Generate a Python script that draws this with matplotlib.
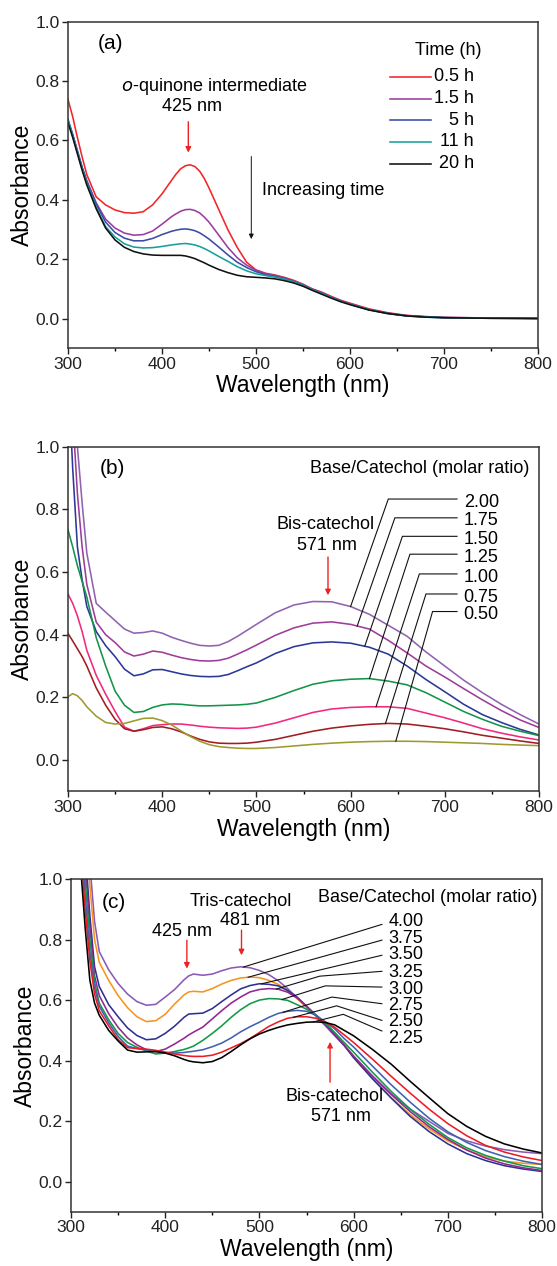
import numpy as np
import matplotlib
matplotlib.use('Agg')
from matplotlib import pyplot as plt

plt.rcParams['font.family'] = ['Liberation Sans', 'DejaVu Sans']

# ---------------- panel (a): time series ----------------
wl_a = [300, 305, 310, 315, 320, 330, 340, 350, 360, 370, 380, 390, 400, 410, 415, 420, 425, 430,
        435, 440, 445, 450, 460, 470, 480, 490, 500, 510, 520, 530, 540, 550, 560, 570, 580, 590,
        600, 620, 640, 660, 680, 700, 750, 800]
abs_05h = [0.738, 0.68, 0.61, 0.545, 0.485, 0.41, 0.383, 0.366, 0.357, 0.355, 0.360, 0.383, 0.42,
           0.465, 0.487, 0.505, 0.515, 0.518, 0.512, 0.497, 0.472, 0.44, 0.37, 0.30, 0.24, 0.19,
           0.164, 0.153, 0.147, 0.139, 0.129, 0.116, 0.100, 0.089, 0.075, 0.062, 0.052, 0.033,
           0.020, 0.011, 0.007, 0.004, 0.002, 0.001]
abs_15h = [0.668, 0.62, 0.565, 0.51, 0.465, 0.39, 0.335, 0.305, 0.288, 0.281, 0.283, 0.295, 0.318,
           0.343, 0.353, 0.362, 0.367, 0.368, 0.364, 0.356, 0.342, 0.325, 0.283, 0.24, 0.205,
           0.18, 0.163, 0.151, 0.145, 0.137, 0.127, 0.114, 0.099, 0.087, 0.073, 0.06, 0.05,
           0.031, 0.018, 0.010, 0.006, 0.004, 0.002, 0.001]
abs_5h = [0.671, 0.62, 0.565, 0.51, 0.462, 0.385, 0.325, 0.29, 0.271, 0.262, 0.262, 0.27, 0.283,
          0.294, 0.298, 0.301, 0.302, 0.30, 0.296, 0.289, 0.279, 0.268, 0.242, 0.215, 0.19,
          0.172, 0.158, 0.148, 0.142, 0.135, 0.125, 0.113, 0.098, 0.086, 0.072, 0.059, 0.049,
          0.030, 0.018, 0.010, 0.006, 0.003, 0.002, 0.001]
abs_11h = [0.668, 0.615, 0.56, 0.505, 0.455, 0.375, 0.31, 0.275, 0.252, 0.241, 0.238, 0.239, 0.243,
           0.248, 0.25, 0.252, 0.253, 0.251, 0.248, 0.243, 0.236, 0.228, 0.21, 0.193, 0.175,
           0.161, 0.151, 0.145, 0.14, 0.133, 0.124, 0.112, 0.097, 0.084, 0.071, 0.058, 0.048,
           0.030, 0.017, 0.009, 0.005, 0.003, 0.001, 0.0]
abs_20h = [0.659, 0.61, 0.555, 0.50, 0.45, 0.37, 0.305, 0.265, 0.24, 0.226, 0.218, 0.214, 0.213,
           0.213, 0.213, 0.213, 0.211, 0.207, 0.202, 0.195, 0.188, 0.18, 0.166, 0.155, 0.146,
           0.141, 0.139, 0.137, 0.134, 0.128, 0.12, 0.109, 0.095, 0.082, 0.069, 0.057, 0.047,
           0.029, 0.017, 0.009, 0.005, 0.003, 0.001, 0.0]
time_labels = ['0.5 h', '1.5 h', '5 h', '11 h', '20 h']
time_colors = ['#f0262a', '#9b3d9e', '#3a4ba8', '#16a09a', '#111111']

# ---------------- panel (b): base/catechol 0.50 - 2.00 ----------------
wl_b = [300, 305, 310, 315, 320, 330, 340, 350, 360, 370, 380, 390, 400, 410, 420, 430, 440, 450,
        460, 470, 480, 490, 500, 520, 540, 560, 580, 600, 620, 640, 660, 680, 700, 720, 740, 760,
        780, 800]
abs_b_200 = [1.6, 1.3, 1.0, 0.82, 0.66, 0.50, 0.472, 0.445, 0.418, 0.405, 0.407, 0.412, 0.405,
             0.392, 0.382, 0.373, 0.366, 0.364, 0.366, 0.378, 0.395, 0.414, 0.433, 0.47, 0.495,
             0.506, 0.505, 0.49, 0.465, 0.43, 0.395, 0.345, 0.30, 0.255, 0.215, 0.178, 0.145,
             0.115]
abs_b_175 = [1.5, 1.1, 0.85, 0.68, 0.56, 0.44, 0.40, 0.375, 0.345, 0.332, 0.338, 0.348, 0.344,
             0.335, 0.327, 0.321, 0.317, 0.316, 0.318, 0.325, 0.338, 0.352, 0.367, 0.398, 0.422,
             0.437, 0.441, 0.433, 0.418, 0.382, 0.342, 0.30, 0.265, 0.228, 0.192, 0.158, 0.128,
             0.104]
abs_b_150 = [1.25, 0.93, 0.68, 0.575, 0.49, 0.41, 0.365, 0.33, 0.29, 0.269, 0.275, 0.288, 0.289,
             0.282, 0.275, 0.27, 0.267, 0.266, 0.267, 0.273, 0.285, 0.298, 0.31, 0.34, 0.362,
             0.374, 0.377, 0.373, 0.36, 0.338, 0.30, 0.257, 0.218, 0.178, 0.145, 0.12, 0.098,
             0.08]
abs_b_125 = [0.735, 0.68, 0.62, 0.57, 0.52, 0.39, 0.30, 0.22, 0.175, 0.152, 0.155, 0.168, 0.176,
             0.179, 0.178, 0.175, 0.173, 0.173, 0.174, 0.175, 0.176, 0.178, 0.182, 0.20, 0.222,
             0.242, 0.253, 0.258, 0.26, 0.252, 0.24, 0.215, 0.185, 0.155, 0.13, 0.108, 0.092,
             0.078]
abs_b_100 = [0.53, 0.50, 0.46, 0.41, 0.35, 0.27, 0.21, 0.155, 0.105, 0.092, 0.10, 0.11, 0.113,
             0.115, 0.115, 0.112, 0.108, 0.105, 0.103, 0.102, 0.101, 0.102, 0.105, 0.118, 0.135,
             0.152, 0.163, 0.168, 0.17, 0.17, 0.165, 0.15, 0.135, 0.118, 0.10, 0.086, 0.074,
             0.064]
abs_b_075 = [0.404, 0.38, 0.355, 0.33, 0.30, 0.23, 0.175, 0.13, 0.10, 0.092, 0.097, 0.104, 0.106,
             0.10, 0.09, 0.077, 0.066, 0.058, 0.054, 0.053, 0.053, 0.054, 0.057, 0.066, 0.079,
             0.092, 0.102, 0.109, 0.114, 0.117, 0.115, 0.108, 0.10, 0.09, 0.079, 0.07, 0.061,
             0.053]
abs_b_050 = [0.202, 0.212, 0.205, 0.19, 0.17, 0.14, 0.12, 0.115, 0.117, 0.125, 0.133, 0.134,
             0.126, 0.112, 0.093, 0.075, 0.06, 0.049, 0.043, 0.04, 0.038, 0.037, 0.037, 0.04,
             0.045, 0.05, 0.054, 0.057, 0.059, 0.06, 0.06, 0.059, 0.057, 0.055, 0.053, 0.05,
             0.048, 0.046]
ratio_b = ['2.00', '1.75', '1.50', '1.25', '1.00', '0.75', '0.50']
colors_b = ['#8e63b0', '#9e3d97', '#2b3896', '#13944a', '#f2287d', '#a11d21', '#9e9a2e']

# ---------------- panel (c): base/catechol 2.25 - 4.00 ----------------
wl_c = [300, 305, 310, 315, 320, 325, 330, 340, 350, 360, 370, 380, 390, 400, 410, 420, 425, 430,
        440, 450, 460, 470, 480, 490, 500, 510, 520, 530, 540, 550, 560, 570, 580, 590, 600, 620,
        640, 660, 680, 700, 720, 740, 760, 780, 800]
abs_c_400 = [2.0, 1.8, 1.55, 1.3, 1.05, 0.86, 0.76, 0.70, 0.655, 0.62, 0.595, 0.583, 0.586, 0.61,
             0.635, 0.667, 0.68, 0.686, 0.682, 0.686, 0.697, 0.706, 0.71, 0.707, 0.698, 0.684,
             0.664, 0.638, 0.607, 0.577, 0.547, 0.515, 0.482, 0.45, 0.415, 0.35, 0.29, 0.24, 0.20,
             0.16, 0.135, 0.118, 0.106, 0.098, 0.093]
abs_c_375 = [1.9, 1.7, 1.45, 1.2, 0.98, 0.80, 0.725, 0.665, 0.615, 0.575, 0.545, 0.529, 0.532,
             0.553, 0.587, 0.617, 0.627, 0.629, 0.627, 0.638, 0.653, 0.665, 0.673, 0.676, 0.674,
             0.665, 0.652, 0.63, 0.605, 0.577, 0.548, 0.52, 0.488, 0.452, 0.41, 0.342, 0.278,
             0.222, 0.175, 0.135, 0.105, 0.082, 0.068, 0.061, 0.057]
abs_c_350 = [1.8, 1.6, 1.35, 1.1, 0.88, 0.71, 0.645, 0.585, 0.545, 0.508, 0.483, 0.469, 0.472,
             0.49, 0.514, 0.543, 0.554, 0.555, 0.557, 0.572, 0.595, 0.617, 0.637, 0.648, 0.654,
             0.652, 0.647, 0.632, 0.61, 0.58, 0.55, 0.52, 0.485, 0.45, 0.41, 0.34, 0.276, 0.216,
             0.166, 0.125, 0.093, 0.07, 0.053, 0.042, 0.034]
abs_c_325 = [1.75, 1.55, 1.3, 1.05, 0.84, 0.68, 0.615, 0.555, 0.51, 0.475, 0.452, 0.436, 0.43,
             0.438, 0.455, 0.474, 0.485, 0.494, 0.511, 0.538, 0.565, 0.59, 0.61, 0.627, 0.635,
             0.638, 0.636, 0.626, 0.607, 0.58, 0.55, 0.52, 0.487, 0.452, 0.415, 0.348, 0.288,
             0.232, 0.182, 0.14, 0.105, 0.078, 0.059, 0.046, 0.037]
abs_c_300 = [1.7, 1.5, 1.25, 1.0, 0.80, 0.66, 0.59, 0.535, 0.49, 0.46, 0.444, 0.432, 0.422, 0.425,
             0.43, 0.437, 0.442, 0.448, 0.467, 0.49, 0.515, 0.543, 0.568, 0.588, 0.60, 0.605,
             0.604, 0.599, 0.585, 0.57, 0.551, 0.525, 0.493, 0.46, 0.428, 0.362, 0.298, 0.24,
             0.19, 0.146, 0.112, 0.087, 0.068, 0.053, 0.043]
abs_c_275 = [1.65, 1.45, 1.2, 0.95, 0.76, 0.64, 0.58, 0.525, 0.48, 0.448, 0.44, 0.435, 0.43,
             0.427, 0.425, 0.427, 0.429, 0.431, 0.436, 0.446, 0.458, 0.475, 0.495, 0.512, 0.527,
             0.543, 0.556, 0.563, 0.566, 0.563, 0.55, 0.528, 0.505, 0.473, 0.445, 0.382, 0.32,
             0.263, 0.21, 0.165, 0.13, 0.103, 0.083, 0.068, 0.057]
abs_c_250 = [1.6, 1.4, 1.12, 0.90, 0.73, 0.62, 0.565, 0.515, 0.47, 0.443, 0.44, 0.438, 0.434,
             0.428, 0.422, 0.417, 0.415, 0.414, 0.414, 0.418, 0.428, 0.442, 0.456, 0.473, 0.493,
             0.513, 0.528, 0.54, 0.545, 0.545, 0.54, 0.528, 0.51, 0.485, 0.46, 0.405, 0.348,
             0.293, 0.24, 0.192, 0.152, 0.12, 0.098, 0.082, 0.07]
abs_c_225 = [1.5, 1.3, 1.05, 0.84, 0.666, 0.59, 0.55, 0.50, 0.465, 0.435, 0.428, 0.429, 0.43,
             0.425, 0.416, 0.404, 0.399, 0.396, 0.393, 0.397, 0.41, 0.43, 0.452, 0.472, 0.488,
             0.50, 0.51, 0.518, 0.523, 0.527, 0.528, 0.526, 0.518, 0.50, 0.482, 0.437, 0.388,
             0.332, 0.278, 0.225, 0.183, 0.15, 0.125, 0.108, 0.095]
ratio_c = ['4.00', '3.75', '3.50', '3.25', '3.00', '2.75', '2.50', '2.25']
colors_c = ['#8c5ab4', '#f7941d', '#2e3192', '#92278f', '#0f9a48', '#4161b0', '#ed1c24', '#000000']

FS_TICK = 12.5
FS_LABEL = 16.5
FS_TEXT = 13

W, H = 557, 1266
fig = plt.figure(figsize=(W / 100, H / 100), dpi=100)


def px_rect(left, top, right, bottom):
    return [left / W, 1 - bottom / H, (right - left) / W, (bottom - top) / H]


def style_axes(ax):
    ax.set_xlim(300, 800)
    ax.set_ylim(-0.1, 1.0)
    ax.set_xticks(np.arange(300, 801, 100))
    ax.set_xticks(np.arange(350, 800, 100), minor=True)
    ax.set_yticks(np.arange(0, 1.01, 0.2))
    ax.yaxis.set_major_formatter(matplotlib.ticker.FormatStrFormatter('%.1f'))
    ax.tick_params(which='major', direction='out', length=4, width=1.0, pad=2,
                   labelsize=FS_TICK, colors='#222222', top=False, right=False)
    ax.tick_params(which='minor', direction='out', length=2.5, width=1.0,
                   top=False, right=False)
    ax.tick_params(axis='y', which='minor', left=False)
    for s in ax.spines.values():
        s.set_linewidth(1.1)
        s.set_color('#333333')
    ax.set_xlabel('Wavelength (nm)', fontsize=FS_LABEL, labelpad=2)
    ax.set_ylabel('Absorbance', fontsize=FS_LABEL, labelpad=1)


def red_arrow(ax, x, y0, y1):
    ax.annotate('', xy=(x, y1), xytext=(x, y0),
                arrowprops=dict(arrowstyle='-|>', color='#ee2222', lw=1.0,
                                mutation_scale=8, shrinkA=0, shrinkB=0))


# ---------- (a) ----------
ax1 = fig.add_axes(px_rect(68, 21.7, 538, 348.3))
series_a = [abs_05h, abs_15h, abs_5h, abs_11h, abs_20h]
for vals, col in zip(series_a, time_colors):
    ax1.plot(wl_a, vals, color=col, lw=1.15)
style_axes(ax1)
ax1.text(332, 0.925, '(a)', fontsize=15, va='center')
ax1.text(455, 0.783, r'$\mathit{o}$-quinone intermediate', fontsize=FS_TEXT,
         ha='center', va='center')
ax1.text(432, 0.716, '425 nm', fontsize=FS_TEXT, ha='center', va='center')
red_arrow(ax1, 428, 0.663, 0.559)
ax1.annotate('', xy=(495, 0.268), xytext=(495, 0.546),
             arrowprops=dict(arrowstyle='-|>', color='#111111', lw=0.7,
                             mutation_scale=7, shrinkA=0, shrinkB=0))
ax1.text(506, 0.431, 'Increasing time', fontsize=FS_TEXT, va='center')
# legend drawn as a small key in axes coordinates
ax1.text(0.81, 0.911, 'Time (h)', transform=ax1.transAxes, fontsize=FS_TEXT,
         ha='center', va='center')
for i, (lab, col) in enumerate(zip(time_labels, time_colors)):
    yk = 0.831 - i * 0.0664
    ax1.plot([0.685, 0.772], [yk, yk], transform=ax1.transAxes, color=col, lw=1.15)
    ax1.text(0.864, yk, lab, transform=ax1.transAxes, fontsize=FS_TEXT,
             ha='right', va='center')

# ---------- (b) ----------
ax2 = fig.add_axes(px_rect(68, 446.7, 539, 791.4))
series_b = [abs_b_200, abs_b_175, abs_b_150, abs_b_125, abs_b_100, abs_b_075, abs_b_050]
for vals, col in zip(series_b, colors_b):
    ax2.plot(wl_b, vals, color=col, lw=1.15)
style_axes(ax2)
ax2.text(334, 0.93, '(b)', fontsize=15, va='center')
ax2.text(790, 0.93, 'Base/Catechol (molar ratio)', fontsize=FS_TEXT, ha='right', va='center')
ax2.text(573, 0.752, 'Bis-catechol', fontsize=FS_TEXT, ha='center', va='center')
ax2.text(575, 0.685, '571 nm', fontsize=FS_TEXT, ha='center', va='center')
red_arrow(ax2, 576, 0.648, 0.526)
label_v_b = [0.823, 0.763, 0.704, 0.647, 0.584, 0.520, 0.464]
elbow_b = [640, 647, 655, 663, 673, 680, 687]
end_b = [600, 607, 615, 620, 627, 637, 648]
for vals, lab, lv, ex, ee in zip(series_b, ratio_b, label_v_b, elbow_b, end_b):
    yc = np.interp(ee, wl_b, vals)
    ax2.plot([ee, ex, 713], [yc, lv + 0.01, lv + 0.01], color='#111111', lw=0.8)
    ax2.text(720, lv, lab, fontsize=FS_TEXT, va='center')

# ---------- (c) ----------
ax3 = fig.add_axes(px_rect(71, 879, 542, 1212))
series_c = [abs_c_400, abs_c_375, abs_c_350, abs_c_325, abs_c_300, abs_c_275, abs_c_250, abs_c_225]
for vals, col in zip(series_c, colors_c):
    ax3.plot(wl_c, vals, color=col, lw=1.15)
style_axes(ax3)
ax3.text(333, 0.924, '(c)', fontsize=15, va='center')
ax3.text(795, 0.939, 'Base/Catechol (molar ratio)', fontsize=FS_TEXT, ha='right', va='center')
ax3.text(480, 0.927, 'Tris-catechol', fontsize=FS_TEXT, ha='center', va='center')
ax3.text(490, 0.864, '481 nm', fontsize=FS_TEXT, ha='center', va='center')
red_arrow(ax3, 481, 0.831, 0.748)
ax3.text(418, 0.825, '425 nm', fontsize=FS_TEXT, ha='center', va='center')
red_arrow(ax3, 423, 0.798, 0.704)
ax3.text(580, 0.28, 'Bis-catechol', fontsize=FS_TEXT, ha='center', va='center')
ax3.text(587, 0.216, '571 nm', fontsize=FS_TEXT, ha='center', va='center')
red_arrow(ax3, 575, 0.329, 0.462)
label_v_c = [0.861, 0.805, 0.75, 0.691, 0.636, 0.581, 0.528, 0.473]
line_end_c = [0.85, 0.798, 0.748, 0.695, 0.643, 0.588, 0.533, 0.498]
end_c = [483, 488, 502, 518, 524, 525, 536, 557]
elbow_c = [None, None, None, (564, 0.679), (570, 0.647), (577, 0.61), (582, 0.581), (589, 0.553)]
for vals, lab, lv, le, ee, eb in zip(series_c, ratio_c, label_v_c, line_end_c, end_c, elbow_c):
    yc = np.interp(ee, wl_c, vals)
    xs, ys = [ee], [yc]
    if eb is not None:
        xs.append(eb[0])
        ys.append(eb[1])
    xs.append(630)
    ys.append(le)
    ax3.plot(xs, ys, color='#111111', lw=0.8)
    ax3.text(637, lv, lab, fontsize=FS_TEXT, va='center')

fig.savefig('out.png', dpi=100)
